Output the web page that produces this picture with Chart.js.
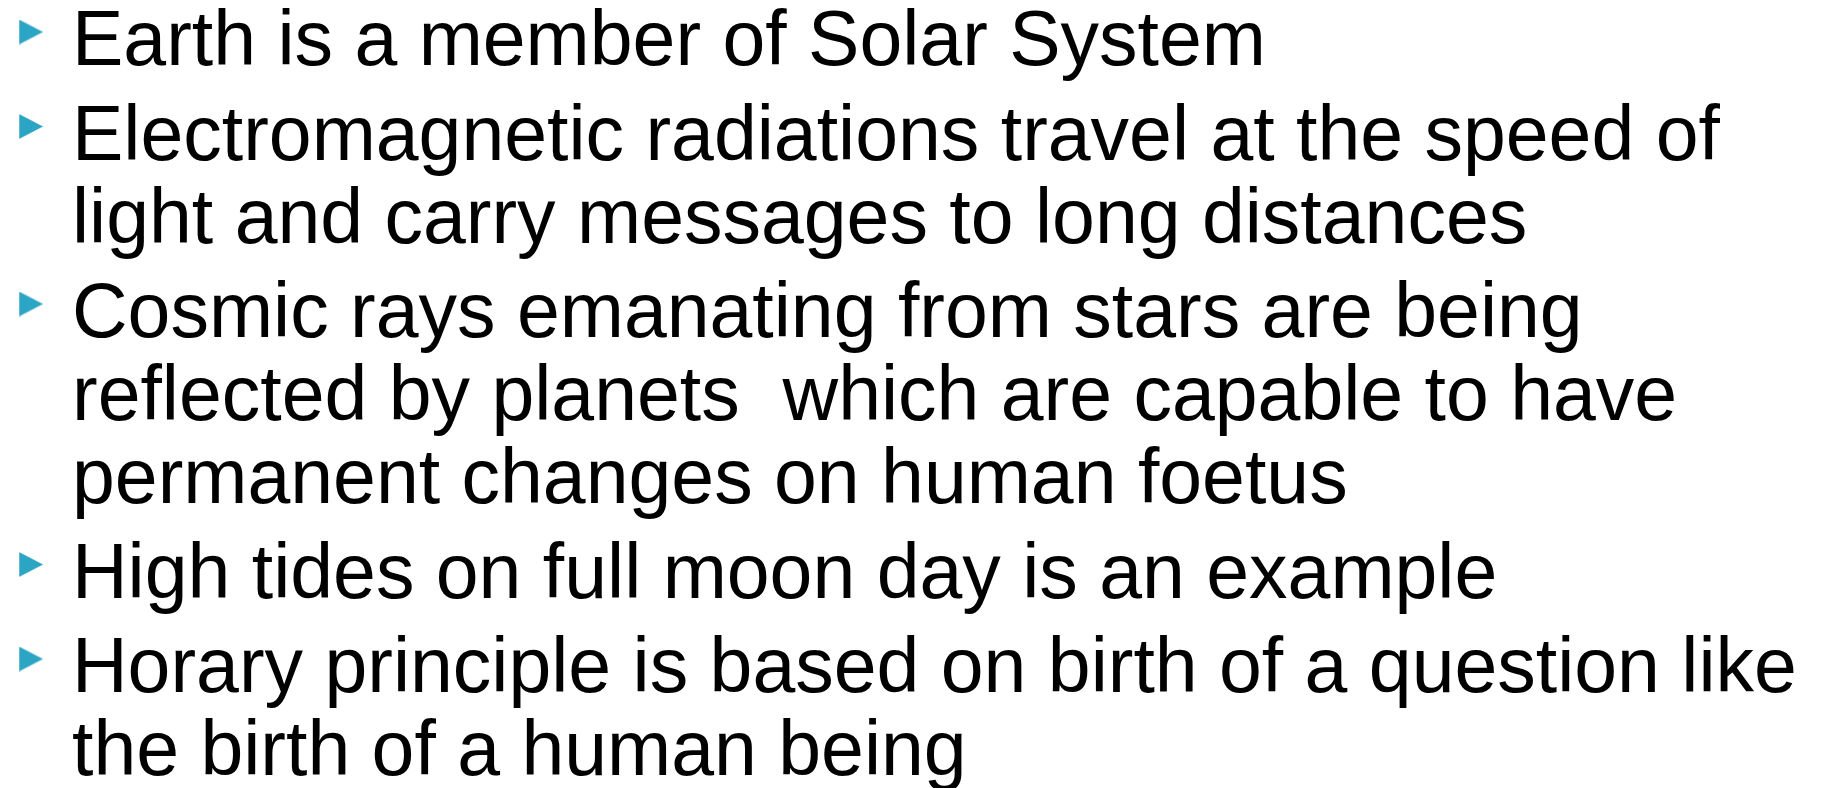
<!DOCTYPE html>
<html>
<head>
<meta charset="utf-8">
<script src="https://cdn.jsdelivr.net/npm/chart.js@4"></script>
<style>
  html, body { margin: 0; padding: 0; background: #ffffff; }
  #slide_box { position: relative; width: 1823px; height: 788px; }
</style>
</head>
<body>
<div id="slide_box"><canvas id="slide"></canvas></div>
<script>
// text of each printed line, top to bottom
var lineTexts = [
  'Earth is a member of Solar System',
  'Electromagnetic radiations travel at the speed of',
  'light and carry messages to long distances',
  'Cosmic rays emanating from stars are being',
  'reflected by planets  which are capable to have',
  'permanent changes on human foetus',
  'High tides on full moon day is an example',
  'Horary principle is based on birth of a question like',
  'the birth of a human being'
];

// which bullet point each line belongs to
var paragraphOf = [0, 1, 1, 2, 2, 2, 3, 4, 4];

var lineStep = 83;     // px between lines
var paraGap = 11.5;    // extra px between bullet points
var fontSize = 77;

function lineValue(i) {
  return i + paragraphOf[i] * (paraGap / lineStep);
}

var bulletPoints = [];
var textPoints = [];
for (var i = 0; i < lineTexts.length; i++) {
  textPoints.push({ x: 1, y: lineValue(i), text: lineTexts[i] });
  if (i == 0 || paragraphOf[i] != paragraphOf[i - 1]) {
    bulletPoints.push({ x: 0, y: lineValue(i) });
  }
}

// right-pointing bullet triangle
var bulletImg = document.createElement('canvas');
bulletImg.width = 25;
bulletImg.height = 25;
var bctx = bulletImg.getContext('2d');
bctx.fillStyle = '#2ca4c4';
bctx.beginPath();
bctx.moveTo(0.5, 0);
bctx.lineTo(24.5, 12.5);
bctx.lineTo(0.5, 25);
bctx.closePath();
bctx.fill();

var textPlugin = {
  id: 'lineText',
  afterDatasetsDraw: function (chart) {
    var ctx = chart.ctx;
    var xs = chart.scales.x;
    var ys = chart.scales.y;
    ctx.save();
    ctx.fillStyle = '#000000';
    ctx.font = fontSize + 'px "Liberation Sans", Arial, sans-serif';
    ctx.textBaseline = 'alphabetic';
    ctx.textAlign = 'left';
    textPoints.forEach(function (p) {
      ctx.fillText(p.text, xs.getPixelForValue(p.x), ys.getPixelForValue(p.y) + 33);
    });
    ctx.restore();
  }
};

var W = 1823, H = 788;
var bulletX = 31, textX = 72, firstY = 32;
var xUnit = textX - bulletX;

new Chart(document.getElementById('slide'), {
  type: 'scatter',
  data: {
    datasets: [{
      label: 'bullets',
      data: bulletPoints,
      pointStyle: bulletImg,
      pointRadius: 12,
      pointHoverRadius: 12,
      showLine: false
    }]
  },
  options: {
    responsive: true,
    maintainAspectRatio: false,
    animation: false,
    events: [],
    layout: { padding: 0, autoPadding: false },
    plugins: {
      legend: { display: false },
      tooltip: { enabled: false },
      title: { display: false }
    },
    scales: {
      x: {
        display: false,
        min: -bulletX / xUnit,
        max: (W - bulletX) / xUnit
      },
      y: {
        display: false,
        reverse: true,
        min: -firstY / lineStep,
        max: (H - firstY) / lineStep
      }
    }
  },
  plugins: [textPlugin]
});
</script>
</body>
</html>
